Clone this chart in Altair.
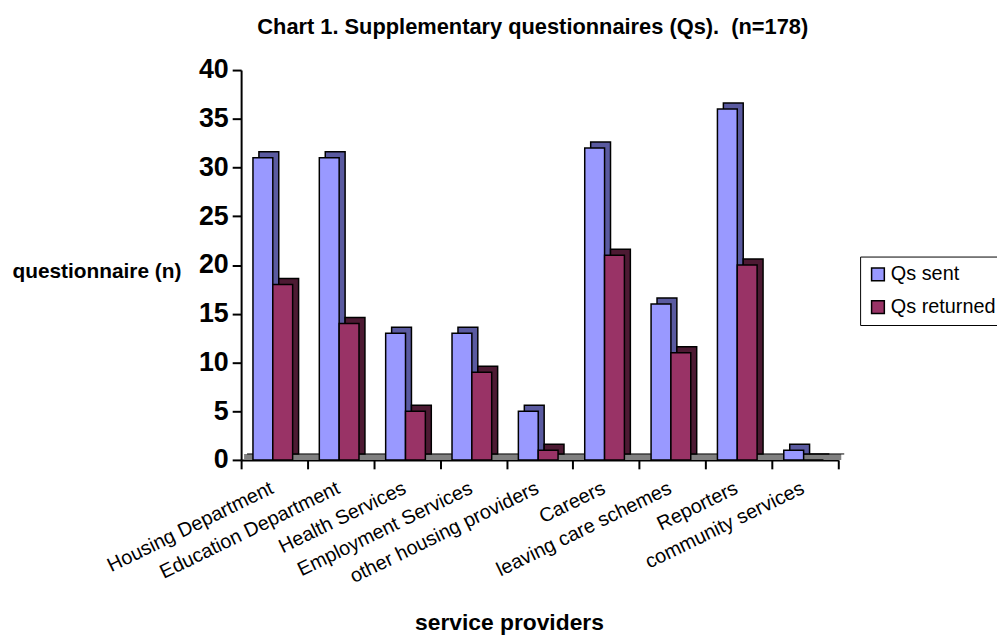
import altair as alt
import pandas as pd

categories = ["Housing Department", "Education Department", "Health Services",
              "Employment Services", "other housing providers", "Careers",
              "leaving care schemes", "Reporters", "community services"]
qs_sent = [31, 31, 13, 13, 5, 32, 16, 36, 1]
qs_returned = [18, 14, 5, 9, 1, 21, 11, 20, 0]
series = ["Qs sent", "Qs returned"]
front_colors = ["#9999FF", "#993366"]
side_colors = ["#5A5AA0", "#4D1A33"]

rows = []
for c, s, r in zip(categories, qs_sent, qs_returned):
    rows.append({"provider": c, "series": "Qs sent", "n": s})
    rows.append({"provider": c, "series": "Qs returned", "n": r})
df = pd.DataFrame(rows)

FONT = "Liberation Sans"
W, H = 602, 393
D = 6
BW = 20
OFFS = {"Qs sent": -11.5, "Qs returned": 8.5}

x_enc = alt.X("provider:N", sort=categories,
              scale=alt.Scale(paddingInner=0, paddingOuter=0),
              axis=alt.Axis(title="service providers", titleFont=FONT, titleFontSize=23,
                            titleFontWeight="bold", titleX=270, titleY=171,
                            titleAlign="center", titleBaseline="alphabetic", titleColor="black",
                            labelFont=FONT, labelFontSize=20, labelAngle=334,
                            labelAlign="right", labelBaseline="top", labelPadding=9,
                            labelOffset=-7, labelColor="black", labelLimit=400,
                            labelOverlap=False,
                            tickBand="extent", tickSize=9, tickWidth=2, tickColor="black",
                            domainColor="black", domainWidth=2, grid=False))
y_scale = alt.Scale(domain=[0, 40], nice=False)
y_enc = alt.Y("n:Q", scale=y_scale,
              axis=alt.Axis(title="questionnaire (n)", values=list(range(0, 41, 5)),
                            titleAngle=0, titleX=-231, titleY=203, titleAlign="left",
                            titleBaseline="middle", titleFont=FONT, titleFontSize=21,
                            titleFontWeight="bold", titleColor="black",
                            labelFont=FONT, labelFontSize=27, labelFontWeight="bold",
                            labelColor="black", labelPadding=4,
                            tickSize=9, tickWidth=2, tickColor="black",
                            domainColor="black", domainWidth=2, grid=False))

color_scale = alt.Scale(domain=series, range=front_colors)

floor = alt.Chart(pd.DataFrame({"n": [0]})).mark_rule(
    color="#808080", strokeWidth=D, yOffset=-D / 2, xOffset=D / 2, x2Offset=D / 2
).encode(x=alt.value(0), x2=alt.value(W), y=y_enc)
floor_edge = alt.Chart(pd.DataFrame({"n": [0]})).mark_rule(
    color="black", strokeWidth=1, yOffset=-D, xOffset=D, x2Offset=D
).encode(x=alt.value(0), x2=alt.value(W), y=y_enc)

layers = [floor, floor_edge]
for s, side in zip(series, side_colors):
    base = alt.Chart(df).transform_filter(alt.datum.series == s)
    shadow = base.mark_bar(
        width=BW, xOffset=OFFS[s] + D, yOffset=-D, y2Offset=-D,
        fill=side, stroke="black", strokeWidth=1.5
    ).encode(x=x_enc, y=y_enc)
    front = base.mark_bar(
        width=BW, xOffset=OFFS[s], stroke="black", strokeWidth=1.5
    ).encode(
        x=x_enc, y=y_enc,
        fill=alt.Fill("series:N", scale=color_scale,
                      legend=alt.Legend(title=None, orient="none", legendX=624, legendY=188,
                                        symbolType="square", symbolSize=165,
                                        symbolStrokeColor="black", symbolStrokeWidth=1.5,
                                        symbolOpacity=1,
                                        labelFont=FONT, labelFontSize=20, labelColor="black",
                                        labelOffset=3, rowPadding=13, padding=8,
                                        strokeColor="black", fillColor="white")),
    )
    layers += [shadow, front]

chart = alt.layer(*layers).properties(
    width=W, height=H,
    title=alt.TitleParams("Chart 1. Supplementary questionnaires (Qs). \u00a0(n=178)",
                          font=FONT, fontSize=22, fontWeight="bold", color="black",
                          anchor="middle", dx=-7, offset=17),
    autosize=alt.AutoSizeParams(type="none"),
    padding={"left": 235, "top": 60, "right": 160, "bottom": 182},
).configure_view(stroke=None)

chart.save("out.html", embed_options={"renderer": "svg", "actions": False})
